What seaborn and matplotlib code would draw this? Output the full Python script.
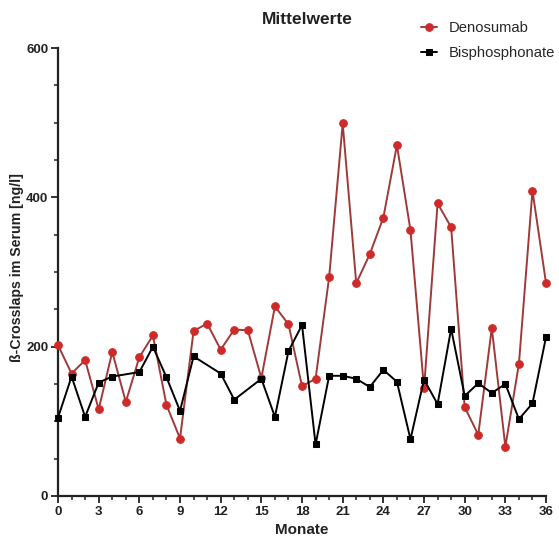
import matplotlib
matplotlib.use("Agg")
import matplotlib.pyplot as plt
from matplotlib.ticker import MultipleLocator
import seaborn as sns
import pandas as pd

# Mean serum beta-CrossLaps per month
months_deno = list(range(0, 37))
deno = [202, 164, 182, 116, 193, 126, 186, 215, 122, 77, 221, 231, 196,
        223, 222, 158, 254, 230, 147, 157, 293, 499, 285, 324, 373, 470,
        356, 144, 392, 360, 119, 82, 225, 66, 177, 409, 285]

months_bis = [0, 1, 2, 3, 4, 6, 7, 8, 9, 10, 12, 13, 15, 16, 17, 18, 19,
              20, 21, 22, 23, 24, 25, 26, 27, 28, 29, 30, 31, 32, 33, 34,
              35, 36]
bis = [105, 160, 106, 152, 160, 166, 200, 159, 114, 187, 164, 129, 157,
       106, 194, 229, 69, 161, 161, 157, 146, 169, 153, 76, 156, 123, 224,
       134, 151, 138, 150, 103, 124, 213]

x_ticks = list(range(0, 37, 3))
y_ticks = [0, 200, 400, 600]

sns.set_theme(style="ticks")
plt.rcParams["font.family"] = ["Liberation Sans", "DejaVu Sans"]

df_d = pd.DataFrame({"Monate": months_deno, "Wert": deno})
df_b = pd.DataFrame({"Monate": months_bis, "Wert": bis})

fig = plt.figure(figsize=(5.59, 5.39), dpi=100)
ax = fig.add_axes([0.1038, 0.0798, 0.873, 0.831])

sns.lineplot(data=df_d, x="Monate", y="Wert", ax=ax, color="#9e3a3a",
             linewidth=1.4, marker="o", markersize=5.5,
             markerfacecolor="#cf2a2a", markeredgecolor="#cf2a2a",
             label="Denosumab", clip_on=False, zorder=3)
sns.lineplot(data=df_b, x="Monate", y="Wert", ax=ax, color="black",
             linewidth=1.4, marker="s", markersize=5,
             markerfacecolor="black", markeredgecolor="black",
             label="Bisphosphonate", clip_on=False, zorder=4)

ax.set_xlim(0, 36)
ax.set_ylim(0, 600)
ax.set_xticks(x_ticks)
ax.set_yticks(y_ticks)
ax.xaxis.set_minor_locator(MultipleLocator(1))
ax.yaxis.set_minor_locator(MultipleLocator(50))
ax.tick_params(axis="both", which="major", length=5, width=1.3,
               labelsize=9.5, pad=2, color="#222222")
ax.tick_params(axis="both", which="minor", length=3, width=1.1,
               color="#222222")
for lbl in ax.get_xticklabels() + ax.get_yticklabels():
    lbl.set_fontweight("bold")
    lbl.set_color("#222222")

for side in ("top", "right"):
    ax.spines[side].set_visible(False)
for side in ("left", "bottom"):
    ax.spines[side].set_linewidth(1.6)
    ax.spines[side].set_color("#222222")

ax.set_xlabel("Monate", fontsize=11, fontweight="bold", color="#222222",
              labelpad=4)
ax.set_ylabel("ß-Crosslaps im Serum [ng/l]", fontsize=10.2,
              fontweight="bold", color="#222222")
ax.yaxis.set_label_coords(-0.070, 0.51)

fig.text(0.549, 0.963, "Mittelwerte", ha="center", va="center",
         fontsize=12.5, fontweight="bold", color="#222222")

handles, labels = ax.get_legend_handles_labels()
ax.get_legend().remove()
fig.legend(handles, labels, loc="upper left", bbox_to_anchor=(0.735, 0.98),
           frameon=False, fontsize=10.6, handlelength=1.1, handletextpad=0.8,
           labelspacing=0.75, borderaxespad=0.3)

fig.savefig("out.png", dpi=100)
